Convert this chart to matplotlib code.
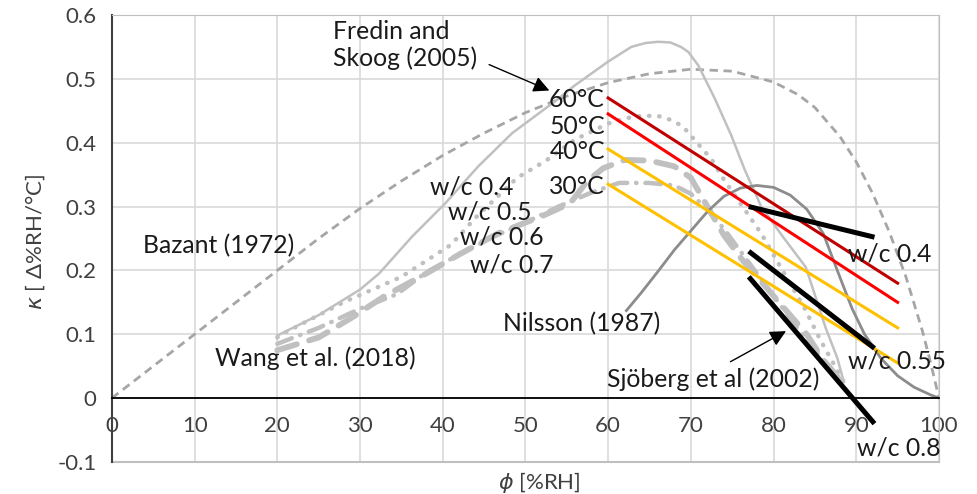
import matplotlib.pyplot as plt

plt.rcParams['font.family'] = ['Lato', 'DejaVu Sans']
plt.rcParams['mathtext.fontset'] = 'dejavusans'

# Bazant (1972)
bazant_rh = [0, 10, 20, 25, 30, 35, 40, 45, 50, 55, 60, 65, 70, 75, 80, 83, 85, 88, 90, 92, 94,
             96, 98, 99, 100]
bazant_k = [0, 0.1, 0.2, 0.25, 0.297, 0.34, 0.38, 0.415, 0.447, 0.473, 0.494, 0.508, 0.515, 0.512,
            0.495, 0.475, 0.455, 0.41, 0.37, 0.32, 0.26, 0.19, 0.105, 0.055, 0]

# Wang et al. (2018)
wang04_rh = [20, 25, 30, 32.3, 36.3, 40.3, 44.3, 48.4, 53.6, 56, 60, 62.8, 64.5, 66, 67.5, 68.8,
             69.7, 70.9, 72.9, 74.9, 76.5, 78.5, 81, 83.9, 86.3, 87.7, 88.5]
wang04_k = [0.098, 0.13, 0.17, 0.195, 0.253, 0.305, 0.363, 0.415, 0.465, 0.49, 0.527, 0.55, 0.556,
            0.558, 0.557, 0.55, 0.542, 0.521, 0.469, 0.411, 0.358, 0.3, 0.255, 0.205, 0.11, 0.063,
            0.025]
wang05_rh = [20, 21, 28, 35, 41, 44, 49, 52.5, 56, 60, 62, 64, 66, 67.5, 69, 70.4, 72.5, 74, 78.5,
             81.3, 83.7, 85.7, 88.5]
wang05_k = [0.095, 0.103, 0.15, 0.19, 0.24, 0.283, 0.345, 0.372, 0.405, 0.43, 0.438, 0.442, 0.442,
            0.436, 0.426, 0.405, 0.374, 0.342, 0.258, 0.195, 0.142, 0.09, 0.025]
wang06_rh = [20, 25, 30, 34.5, 38, 42, 46, 50, 54, 58, 61.3, 65, 68, 70, 72, 74, 76, 78, 80, 82,
             84, 86, 88.5]
wang06_k = [0.085, 0.11, 0.14, 0.163, 0.197, 0.225, 0.252, 0.275, 0.3, 0.322, 0.337, 0.337, 0.333,
            0.32, 0.295, 0.265, 0.23, 0.195, 0.16, 0.125, 0.09, 0.06, 0.022]
wang07_rh = [20, 25, 29, 33, 38, 42, 46.7, 52, 55.4, 57.5, 59.4, 62, 65, 68, 70, 72, 74, 76, 78,
             80, 82, 84, 86, 88.5]
wang07_k = [0.075, 0.095, 0.126, 0.16, 0.195, 0.225, 0.258, 0.285, 0.305, 0.34, 0.36, 0.373, 0.372,
            0.363, 0.345, 0.3, 0.255, 0.22, 0.19, 0.16, 0.13, 0.1, 0.06, 0.022]

# Nilsson (1987)
nilsson_rh = [62.2, 64, 66, 68, 70, 72, 74, 76, 78, 80, 82, 84, 86, 88, 89.5, 91, 93, 95, 97, 99, 100]
nilsson_k = [0.137, 0.165, 0.198, 0.232, 0.262, 0.292, 0.316, 0.329, 0.333, 0.33, 0.318, 0.296,
             0.258, 0.19, 0.14, 0.1, 0.062, 0.035, 0.017, 0.005, 0]

# Fredin and Skoog (2005)
fredin_rh = [60, 95]
fredin_60 = [0.47, 0.18]
fredin_50 = [0.445, 0.15]
fredin_40 = [0.39, 0.11]
fredin_30 = [0.335, 0.055]

# Sjöberg et al (2002)
sjoberg_rh = [77, 92.2]
sjoberg_04 = [0.30, 0.252]
sjoberg_055 = [0.23, 0.078]
sjoberg_08 = [0.19, -0.04]

fig = plt.figure(figsize=(9.77, 4.94), dpi=100)
ax = fig.add_axes([0.1145, 0.0648, 0.8466, 0.9049])

ax.set_xlim(0, 100)
ax.set_ylim(-0.1, 0.6)
ax.set_xticks(range(0, 101, 10))
ax.set_yticks([-0.1, 0, 0.1, 0.2, 0.3, 0.4, 0.5, 0.6])
ax.set_yticklabels(['-0.1', '0', '0.1', '0.2', '0.3', '0.4', '0.5', '0.6'])
ax.grid(True, color='#d9d9d9', lw=1.2)
ax.set_axisbelow(True)
ax.spines['bottom'].set_position(('data', 0))
ax.spines['bottom'].set_color('black')
ax.spines['bottom'].set_linewidth(1.3)
ax.spines['left'].set_color('#404040')
ax.spines['left'].set_linewidth(1.5)
for s in ['top', 'right']:
    ax.spines[s].set_color('#bfbfbf')
ax.axhline(-0.1, color='#bfbfbf', lw=1.5, clip_on=False)
ax.tick_params(length=0, labelsize=16, colors='#404040', pad=11)
ax.tick_params(axis='x', pad=13)

grey = '#c0c0c0'
ax.plot(bazant_rh, bazant_k, color='#a6a6a6', lw=2, ls=(0, (3, 2)))
ax.plot(wang04_rh, wang04_k, color=grey, lw=1.8)
ax.plot(wang05_rh, wang05_k, color=grey, lw=3.2, ls=(0, (0.1, 2.2)), dash_capstyle='round')
ax.plot(wang06_rh, wang06_k, color=grey, lw=3.2, ls=(0, (3.5, 2, 0.1, 2)), dash_capstyle='round')
ax.plot(wang07_rh, wang07_k, color=grey, lw=4.2, ls=(0, (3.5, 2.2)), dash_capstyle='round')
ax.plot(nilsson_rh, nilsson_k, color='#8c8c8c', lw=2)

ax.plot(fredin_rh, fredin_60, color='#c00000', lw=2.2)
ax.plot(fredin_rh, fredin_50, color='#ff0000', lw=2.2)
ax.plot(fredin_rh, fredin_40, color='#ffc000', lw=2.2)
ax.plot(fredin_rh, fredin_30, color='#ffc000', lw=2.2)

for k in (sjoberg_04, sjoberg_055, sjoberg_08):
    ax.plot(sjoberg_rh, k, color='black', lw=3.6, solid_capstyle='butt')

fs = 17.8
tc = '#1a1a1a'
ax.text(26.7, 0.553, 'Fredin and\nSkoog (2005)', fontsize=fs, va='center', ha='left',
        linespacing=1.2, color=tc)
ax.annotate('', xy=(53.2, 0.48), xytext=(45.3, 0.524),
            arrowprops=dict(arrowstyle='-|>', color='black', lw=1, mutation_scale=24))
for y, t in [(0.468, '60°C'), (0.426, '50°C'), (0.386, '40°C'), (0.332, '30°C')]:
    ax.text(59.6, y, t, fontsize=fs, ha='right', va='center', color=tc)
for x, y, t in [(38.5, 0.33, 'w/c 0.4'), (40.6, 0.292, 'w/c 0.5'),
                (42.1, 0.252, 'w/c 0.6'), (43.3, 0.208, 'w/c 0.7')]:
    ax.text(x, y, t, fontsize=fs, ha='left', va='center', color=tc)
ax.text(3.8, 0.238, 'Bazant (1972)', fontsize=fs, ha='left', va='center', color=tc)
ax.text(12.5, 0.063, 'Wang et al. (2018)', fontsize=fs, ha='left', va='center', color=tc)
ax.text(66.3, 0.116, 'Nilsson (1987)', fontsize=fs, ha='right', va='center', color=tc)
ax.text(59.9, 0.03, 'Sjöberg et al (2002)', fontsize=fs, ha='left', va='center', color=tc)
ax.annotate('', xy=(81.8, 0.107), xytext=(74.5, 0.055),
            arrowprops=dict(arrowstyle='-|>', color='black', lw=1, mutation_scale=24))
ax.text(89.0, 0.225, 'w/c 0.4', fontsize=fs, ha='left', va='center', color=tc)
ax.text(89.0, 0.058, 'w/c 0.55', fontsize=fs, ha='left', va='center', color=tc)
ax.text(90.1, -0.078, 'w/c 0.8', fontsize=fs, ha='left', va='center', color=tc)

fig.text(0.036, 0.51, r'$\kappa$ [ Δ%RH/°C]', rotation=90, fontsize=16, ha='center',
         va='center', color='#404040')
fig.text(0.552, 0.024, r'$\phi$ [%RH]', fontsize=16, ha='center', va='center', color='#404040')

fig.savefig('out.png', dpi=100)
